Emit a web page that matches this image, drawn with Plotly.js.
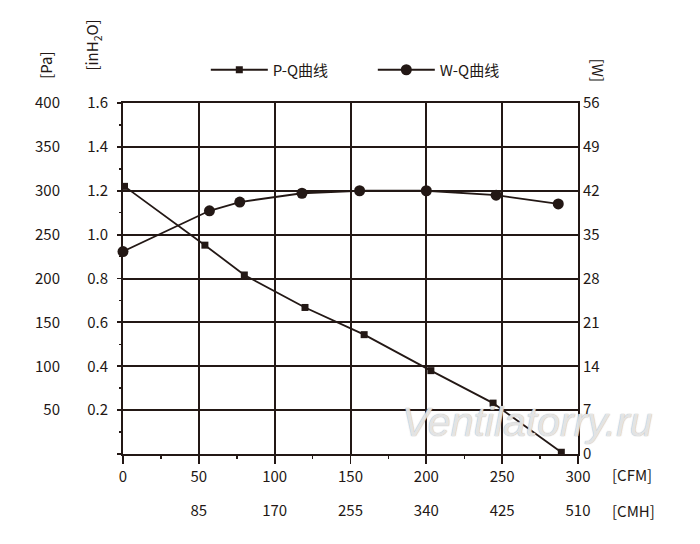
<!DOCTYPE html>
<html>
<head>
<meta charset="utf-8">
<script src="https://cdn.plot.ly/plotly-3.0.1.min.js"></script>
<style>html,body{margin:0;padding:0;background:#fff}#chart{width:700px;height:544px}</style>
</head>
<body>
<div id="chart"></div>
<script>
// P-Q curve (airflow CFM vs static pressure Pa)
var pqCFM = [1, 54, 80, 120, 159, 203, 244, 289];
var pqPa  = [305, 238, 204, 167, 136, 95, 58, 2];
// W-Q curve (airflow CFM vs power W)
var wqCFM = [0, 57, 77, 118, 156, 200, 246, 287];
var wqW   = [32.3, 38.8, 40.2, 41.6, 42.0, 42.0, 41.3, 39.9];

// tick labels
var paTicks = [0, 50, 100, 150, 200, 250, 300, 350, 400];
var paLabels = ['', '50', '100', '150', '200', '250', '300', '350', '400'];
var inTicks = [0.2, 0.4, 0.6, 0.8, 1.0, 1.2, 1.4, 1.6];
var inLabels = ['0.2', '0.4', '0.6', '0.8', '1.0', '1.2', '1.4', '1.6'];
var wTicks = [0, 7, 14, 21, 28, 35, 42, 49, 56];
var cfmTicks = [0, 50, 100, 150, 200, 250, 300];
var cmhTicks = [85, 170, 255, 340, 425, 510];

var ink = '#231815';
var font = 'Noto Sans CJK SC, Noto Sans, sans-serif';

var traces = [
  {x: pqCFM, y: pqPa, xaxis: 'x', yaxis: 'y', name: 'P-Q曲线', type: 'scatter', mode: 'lines+markers',
   line: {color: ink, width: 1.8}, marker: {symbol: 'square', size: 7, color: ink}, cliponaxis: false},
  {x: wqCFM, y: wqW, xaxis: 'x', yaxis: 'y2', name: 'W-Q曲线', type: 'scatter', mode: 'lines+markers',
   line: {color: ink, width: 1.8}, marker: {symbol: 'circle', size: 11, color: ink}, cliponaxis: false},
  // empty carriers so the secondary scale axes (CMH, inH2O) get drawn
  {x: [], y: [], xaxis: 'x2', yaxis: 'y', type: 'scatter', mode: 'markers', showlegend: false, hoverinfo: 'skip'},
  {x: [], y: [], xaxis: 'x', yaxis: 'y3', type: 'scatter', mode: 'markers', showlegend: false, hoverinfo: 'skip'}
];

var layout = {
  width: 700, height: 544,
  margin: {l: 123, r: 122, t: 103, b: 90},
  paper_bgcolor: '#fff', plot_bgcolor: '#fff',
  font: {family: font, size: 15, color: ink},
  showlegend: true,
  legend: {orientation: 'h', x: 0.182, xanchor: 'left', y: 1.094, yanchor: 'middle',
           itemwidth: 57, entrywidth: 95, font: {family: font, size: 15, color: ink}, bgcolor: 'rgba(0,0,0,0)'},
  xaxis: {range: [0, 300], tickvals: cfmTicks, ticktext: cfmTicks.map(String),
          showgrid: true, gridcolor: ink, gridwidth: 2, zeroline: false,
          showline: true, linecolor: ink, linewidth: 2, mirror: true,
          ticks: 'outside', ticklen: 8, tickwidth: 1.8, tickcolor: ink,
          minor: {dtick: 25, ticks: 'outside', ticklen: 3, tickwidth: 1.5, tickcolor: ink, showgrid: false},
          tickfont: {family: font, size: 15, color: ink}, fixedrange: true},
  xaxis2: {range: [0, 510], overlaying: 'x', side: 'bottom', anchor: 'y',
           tickvals: cmhTicks, ticktext: cmhTicks.map(String), ticks: '', showgrid: false, zeroline: false,
           showline: false, ticklabelstandoff: 46, tickfont: {family: font, size: 15, color: ink}},
  yaxis: {range: [0, 400], tickvals: paTicks, ticktext: paLabels,
          showgrid: true, gridcolor: ink, gridwidth: 2, zeroline: false,
          showline: true, linecolor: ink, linewidth: 2, mirror: true,
          ticks: 'outside', ticklen: 4, tickwidth: 1.8, tickcolor: ink,
          minor: {dtick: 25, ticks: 'outside', ticklen: 2.5, tickwidth: 1.5, tickcolor: ink, showgrid: false},
          ticklabelstandoff: 54, tickfont: {family: font, size: 15, color: ink}},
  yaxis3: {range: [0, 1.6], overlaying: 'y', side: 'left', anchor: 'x',
           tickvals: inTicks, ticktext: inLabels, ticks: '', showgrid: false, zeroline: false, showline: false,
           ticklabelstandoff: 14, tickfont: {family: font, size: 15, color: ink}},
  yaxis2: {range: [0, 56], overlaying: 'y', side: 'right', anchor: 'x',
           tickvals: wTicks, ticktext: wTicks.map(String), ticks: '', showgrid: false, zeroline: false, showline: false,
           ticklabelstandoff: 4, tickfont: {family: font, size: 15, color: ink}},
  annotations: [
    {text: '[Pa]', xref: 'paper', yref: 'paper', x: -0.172, y: 1.108, textangle: -90, showarrow: false,
     font: {family: font, size: 15, color: ink}, xanchor: 'center', yanchor: 'middle'},
    {text: '[inH<sub>2</sub>O]', xref: 'paper', yref: 'paper', x: -0.067, y: 1.165, textangle: -90, showarrow: false,
     font: {family: font, size: 15, color: ink}, xanchor: 'center', yanchor: 'middle'},
    {text: '[W]', xref: 'paper', yref: 'paper', x: 1.044, y: 1.095, textangle: 90, showarrow: false,
     font: {family: font, size: 15, color: ink}, xanchor: 'center', yanchor: 'middle'},
    {text: '[CFM]', xref: 'paper', yref: 'paper', x: 1.07, y: -0.057, showarrow: false, xanchor: 'left', yanchor: 'middle',
     font: {family: font, size: 15, color: ink}},
    {text: '[CMH]', xref: 'paper', yref: 'paper', x: 1.07, y: -0.16, showarrow: false, xanchor: 'left', yanchor: 'middle',
     font: {family: font, size: 15, color: ink}},
    {text: 'Ventilatorry.ru', xref: 'paper', yref: 'paper', x: 0.888, y: 0.091, showarrow: false,
     xanchor: 'center', yanchor: 'middle',
     font: {family: 'Liberation Sans, Arial, sans-serif', size: 41, color: 'rgba(255,255,255,0.7)', style: 'italic',
            shadow: '0 0 1px #a0a0a0, 0 0 1px #a0a0a0'}}
  ]
};

Plotly.newPlot('chart', traces, layout, {displayModeBar: false, staticPlot: true});
</script>
</body>
</html>
